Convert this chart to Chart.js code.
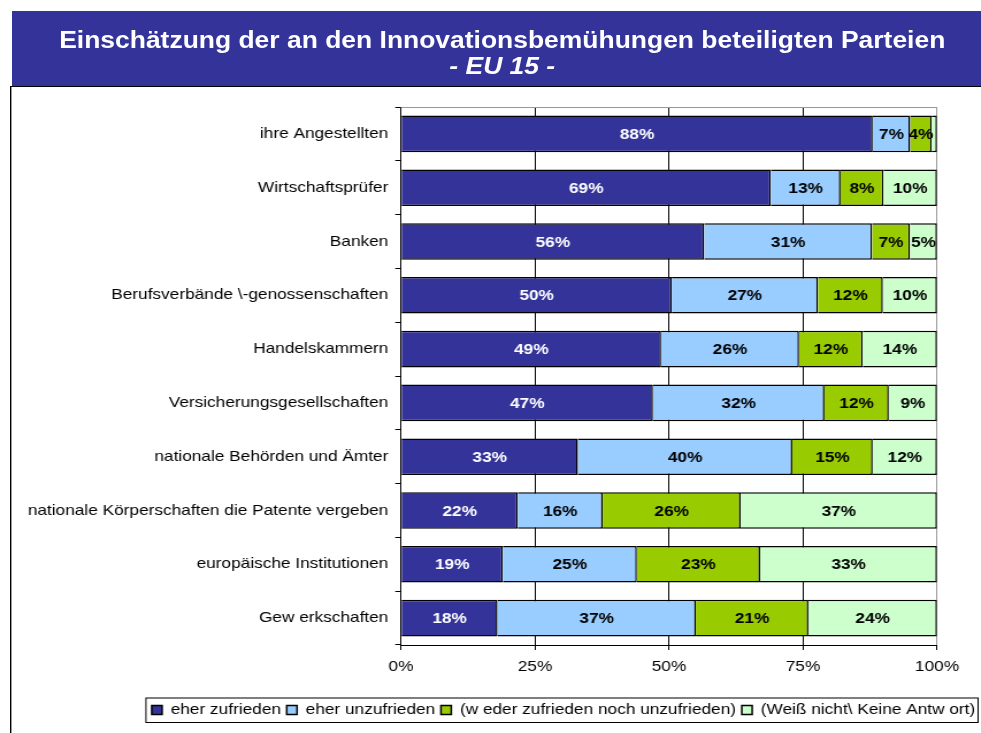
<!DOCTYPE html>
<html lang="de">
<head>
<meta charset="utf-8">
<title>Einschätzung der an den Innovationsbemühungen beteiligten Parteien</title>
<script src="https://cdn.jsdelivr.net/npm/chart.js@4/dist/chart.umd.min.js"></script>
<style>
  html, body { margin: 0; padding: 0; background: #fff; overflow: hidden; }
  body { width: 981px; height: 733px; position: relative; font-family: Arial, "Liberation Sans", sans-serif; }
  #frame {
    position: absolute; left: 10px; top: 86px; width: 971px; height: 647px;
    border-left: 1px solid #000; border-top: 1px solid #000;
    box-shadow: inset 1px 0 0 #999;
  }
  #banner {
    position: absolute; left: 12px; top: 11px; right: 0; height: 75px;
    background: #333399; color: #fff; text-align: center;
  }
  #banner div {
    font-weight: bold; font-size: 23px; line-height: 26px;
    transform: scaleX(1.15); transform-origin: 50% 50%;
    padding-left: 10px;
  }
  #banner .l1 { margin-top: 16px; }
  #banner .l2 { font-style: italic; }
  #wrap {
    position: absolute; left: 0; top: 0; width: 853px; height: 733px;
    transform: scaleX(1.15); transform-origin: 0 0;
  }
</style>
</head>
<body>
<div id="frame"></div>
<div id="wrap"><canvas id="chart"></canvas></div>
<div id="banner">
  <div class="l1">Einschätzung der an den Innovationsbemühungen beteiligten Parteien</div>
  <div class="l2">- EU 15 -</div>
</div>
<script>
const categories = [
  "ihre Angestellten",
  "Wirtschaftsprüfer",
  "Banken",
  "Berufsverbände \\-genossenschaften",
  "Handelskammern",
  "Versicherungsgesellschaften",
  "nationale Behörden und Ämter",
  "nationale Körperschaften die Patente vergeben",
  "europäische Institutionen",
  "Gew erkschaften"
];
const eherZufrieden   = [88, 69, 56, 50, 49, 47, 33, 22, 19, 18];
const eherUnzufrieden = [7, 13, 31, 27, 26, 32, 40, 16, 25, 37];
const wederNoch       = [4, 8, 7, 12, 12, 12, 15, 26, 23, 21];
const weissNicht      = [1, 10, 5, 10, 14, 9, 12, 37, 33, 24];
const seriesNames = [
  "eher zufrieden",
  "eher unzufrieden",
  "(w eder zufrieden noch unzufrieden)",
  "(Weiß nicht\\ Keine Antw ort)"
];
const seriesColors = ["#333399", "#99CCFF", "#99CC00", "#CCFFCC"];
const xTicks = [0, 25, 50, 75, 100];

const FONT = 'Arial, "Liberation Sans", sans-serif';
const series = [eherZufrieden, eherUnzufrieden, wederNoch, weissNicht];
// 100% stacked: each row is scaled to its own total
const rowTotals = categories.map((_, i) => series.reduce((s, arr) => s + arr[i], 0));

const datasets = series.map((vals, k) => ({
  label: seriesNames[k],
  values: vals,
  data: vals.map((v, i) => v / rowTotals[i] * 100),
  backgroundColor: seriesColors[k],
  borderColor: "#000",
  borderWidth: 1.5,
  barPercentage: 0.68,
  categoryPercentage: 1
}));

const barLabels = {
  id: "barLabels",
  afterDatasetsDraw(chart) {
    const ctx = chart.ctx;
    ctx.save();
    ctx.font = "bold 15px " + FONT;
    ctx.textAlign = "center";
    ctx.textBaseline = "middle";
    chart.data.datasets.forEach((ds, di) => {
      chart.getDatasetMeta(di).data.forEach((bar, i) => {
        const v = ds.values[i];
        if (v < 2) return;
        const { x, base, y } = bar.getProps(["x", "base", "y"], true);
        ctx.fillStyle = di === 0 ? "#fff" : "#000";
        ctx.fillText(v + "%", (x + base) / 2, y + 1);
      });
    });
    ctx.restore();
  }
};

const frameLines = {
  id: "frameLines",
  beforeDatasetsDraw(chart) {
    const { ctx, chartArea } = chart;
    ctx.save();
    ctx.strokeStyle = "#999";
    ctx.lineWidth = 1;
    ctx.beginPath();
    ctx.moveTo(chartArea.left, chartArea.top + 0.5);
    ctx.lineTo(chartArea.right, chartArea.top + 0.5);
    ctx.stroke();
    ctx.restore();
  },
  afterDraw(chart) {
    const lg = chart.legend;
    if (!lg || !lg.legendHitBoxes || !lg.legendHitBoxes.length) return;
    const hb = lg.legendHitBoxes;
    const ctx = chart.ctx;
    const left = hb[0].left - 5;
    const right = lg.right - 2.5;
    const top = hb[0].top - 4.5;
    const bottom = hb[0].top + hb[0].height + 5;
    ctx.save();
    ctx.strokeStyle = "#000";
    ctx.lineWidth = 1;
    ctx.strokeRect(left, top, right - left, bottom - top);
    ctx.restore();
  }
};

new Chart(document.getElementById("chart"), {
  type: "bar",
  data: { labels: categories, datasets },
  options: {
    indexAxis: "y",
    responsive: true,
    maintainAspectRatio: false,
    animation: false,
    layout: { padding: { left: 10, right: 0, top: 107, bottom: 5.5 } },
    plugins: {
      legend: {
        position: "bottom",
        align: "end",
        labels: { boxWidth: 9, boxHeight: 9, padding: 5, color: "#000", font: { family: FONT, size: 15 } }
      },
      tooltip: { enabled: false }
    },
    scales: {
      x: {
        stacked: true,
        min: 0,
        max: 100,
        afterBuildTicks: (s) => { s.ticks = xTicks.map((v) => ({ value: v })); },
        afterFit: (s) => { s.height = 52.5; },
        ticks: { color: "#000", padding: 8, maxRotation: 0, font: { family: FONT, size: 15 }, callback: (v) => v + "%" },
        grid: {
          color: (c) => (c.tick && c.tick.value === 100 ? "#999" : "#000"),
          tickColor: "#000",
          tickLength: 5,
          lineWidth: 1
        },
        border: { color: "#000", width: 1 }
      },
      y: {
        stacked: true,
        afterFit: (s) => { s.width = 338.7; },
        ticks: { color: "#000", padding: 6, font: { family: FONT, size: 15 } },
        grid: { offset: true, drawOnChartArea: false, tickLength: 5, color: "#000" },
        border: { color: "#000", width: 1 }
      },
      y2: {
        position: "right",
        display: true,
        afterFit: (s) => { s.width = 38.2; },
        ticks: { display: false },
        grid: { display: false },
        border: { display: false }
      }
    }
  },
  plugins: [barLabels, frameLines]
});
</script>
</body>
</html>
